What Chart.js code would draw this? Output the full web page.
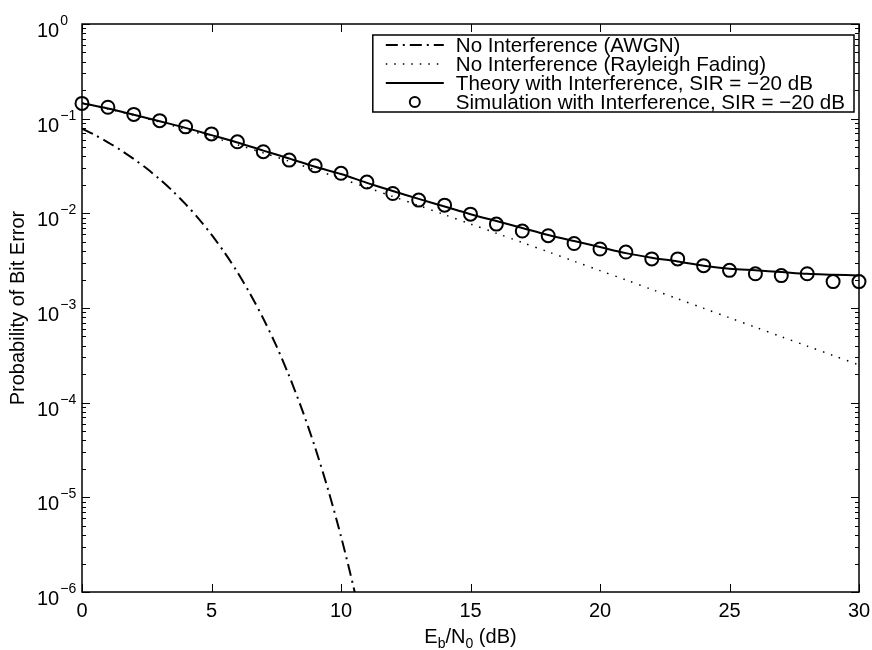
<!DOCTYPE html>
<html>
<head>
<meta charset="utf-8">
<title>BER with interference</title>
<script src="https://cdn.jsdelivr.net/npm/chart.js@4/dist/chart.umd.min.js"></script>
<style>
  html, body { margin: 0; padding: 0; background: #fff; }
  #wrap { width: 872px; height: 650px; }
</style>
</head>
<body>
<div id="wrap"><canvas id="ber" width="872" height="650"></canvas></div>
<script>
// Eb/N0 grid (dB) for the theory / simulation curves
const ebnoDb = [0, 1, 2, 3, 4, 5, 6, 7, 8, 9, 10, 11, 12, 13, 14, 15,
  16, 17, 18, 19, 20, 21, 22, 23, 24, 25, 26, 27, 28, 29, 30];

// finer grid for the AWGN curve, which falls off fast
const awgnDb = [0, 0.5, 1, 1.5, 2, 2.5, 3, 3.5, 4, 4.5, 5, 5.5, 6, 6.5, 7,
  7.5, 8, 8.5, 9, 9.5, 10, 10.5, 11];
const awgnBer = [0.0786, 0.0671, 0.0563, 0.0464, 0.0375, 0.0297, 0.0229, 0.0172,
  0.0125, 0.0088, 0.00595, 0.00386, 0.00239, 0.0014, 7.73e-4, 4.0e-4, 1.91e-4,
  8.4e-5, 3.36e-5, 1.21e-5, 3.87e-6, 1.08e-6, 2.6e-7];

const rayleighBer = [0.1464, 0.1267, 0.1085, 0.0919, 0.0771, 0.0642, 0.0530,
  0.0435, 0.0355, 0.0288, 0.0233, 0.01875, 0.01507, 0.01208, 0.00967, 0.00772,
  0.00616, 0.00492, 0.00392, 0.00312, 0.00248, 0.00198, 0.00157, 0.00125,
  0.000993, 0.000789, 0.000627, 0.000498, 0.000396, 0.000315, 0.000250];

const theoryBer = [0.146, 0.128, 0.110, 0.094, 0.080, 0.067, 0.056, 0.046,
  0.038, 0.031, 0.026, 0.021, 0.0172, 0.0142, 0.0118, 0.0098, 0.0083, 0.0070,
  0.0059, 0.0051, 0.0044, 0.0038, 0.0034, 0.0031, 0.0028, 0.0026, 0.0025,
  0.0024, 0.0023, 0.00225, 0.0022];

const simBer = [0.145, 0.132, 0.111, 0.0953, 0.082, 0.069, 0.057, 0.0448,
  0.0365, 0.0318, 0.0265, 0.0214, 0.0162, 0.0138, 0.0122, 0.0098, 0.0077,
  0.0065, 0.0058, 0.0048, 0.0042, 0.0039, 0.0033, 0.0033, 0.0028, 0.0025,
  0.0023, 0.0022, 0.0023, 0.0019, 0.0019];

const seriesNames = [
  "No Interference (AWGN)",
  "No Interference (Rayleigh Fading)",
  "Theory with Interference, SIR = \u221220 dB",
  "Simulation with Interference, SIR = \u221220 dB"
];

const xTicks = [0, 5, 10, 15, 20, 25, 30];
const yExponents = [0, -1, -2, -3, -4, -5, -6];

const FONT = '"Liberation Sans", Arial, Helvetica, sans-serif';
const FS = 20;
const SUB = 14;

const pts = (xs, ys) => xs.map((x, i) => ({ x: x, y: ys[i] }));

// axes box, inward ticks, tick labels, axis titles and legend, MATLAB style
const matlabAxes = {
  id: "matlabAxes",
  afterDraw(chart) {
    const { ctx, chartArea: a } = chart;
    const xs = chart.scales.x, ys = chart.scales.y;
    ctx.save();
    ctx.strokeStyle = "#000";
    ctx.lineWidth = 1.5;
    ctx.strokeRect(a.left, a.top, a.right - a.left, a.bottom - a.top);

    ctx.beginPath();
    xTicks.forEach(v => {
      const px = Math.round(xs.getPixelForValue(v)) + 0.5;
      ctx.moveTo(px, a.bottom); ctx.lineTo(px, a.bottom - 8);
      ctx.moveTo(px, a.top); ctx.lineTo(px, a.top + 8);
    });
    yExponents.forEach(e => {
      for (let m = 1; m <= 9; m++) {
        if (e === 0 && m > 1) continue;
        const py = Math.round(ys.getPixelForValue(m * Math.pow(10, e))) + 0.5;
        const len = m === 1 ? 8 : 4;
        ctx.moveTo(a.left, py); ctx.lineTo(a.left + len, py);
        ctx.moveTo(a.right, py); ctx.lineTo(a.right - len, py);
      }
    });
    ctx.lineWidth = 1;
    ctx.stroke();

    ctx.fillStyle = "#000";
    ctx.font = FS + "px " + FONT;
    ctx.textAlign = "center";
    ctx.textBaseline = "top";
    xTicks.forEach(v => ctx.fillText(String(v), xs.getPixelForValue(v), a.bottom + 9));

    // y tick labels: 10 with a raised exponent
    ctx.textAlign = "left";
    ctx.textBaseline = "alphabetic";
    yExponents.forEach(e => {
      const py = ys.getPixelForValue(Math.pow(10, e));
      const exp = e === 0 ? "0" : "\u2212" + (-e);
      ctx.font = FS + "px " + FONT;
      const bw = ctx.measureText("10").width;
      ctx.fillText("10", 37, py + 13);
      ctx.font = SUB + "px " + FONT;
      ctx.fillText(exp, 37 + bw + 1, py + 1);
    });

    // x title: Eb/N0 (dB) with subscripts
    const cx = (a.left + a.right) / 2;
    const by = a.bottom + 51;
    const parts = [["E", 0], ["b", 1], ["/N", 0], ["0", 1], [" (dB)", 0]];
    const partFont = p => (p[1] ? SUB : FS) + "px " + FONT;
    let total = 0;
    parts.forEach(p => { ctx.font = partFont(p); total += ctx.measureText(p[0]).width; });
    let x = cx - total / 2;
    parts.forEach(p => {
      ctx.font = partFont(p);
      ctx.fillText(p[0], x, by + (p[1] ? 5 : 0));
      x += ctx.measureText(p[0]).width;
    });

    // y title
    ctx.save();
    ctx.translate(24, (a.top + a.bottom) / 2);
    ctx.rotate(-Math.PI / 2);
    ctx.font = FS + "px " + FONT;
    ctx.textAlign = "center";
    ctx.fillText("Probability of Bit Error", 0, 0);
    ctx.restore();

    // legend box in the upper right corner
    const legFont = "20.6px " + FONT;
    ctx.font = legFont;
    const textW = Math.max(...seriesNames.map(s => ctx.measureText(s).width));
    const rowH = 19;
    const sampleX0 = 13, sampleW = 58, textX = 83;
    const boxW = textX + textW + 9;
    const boxH = rowH * seriesNames.length + 1;
    const bx = a.right - 5 - boxW;
    const bTop = a.top + 11;
    ctx.fillStyle = "#fff";
    ctx.fillRect(bx, bTop, boxW, boxH);
    ctx.strokeStyle = "#000";
    ctx.lineWidth = 1.5;
    ctx.setLineDash([]);
    ctx.strokeRect(bx, bTop, boxW, boxH);
    chart.data.datasets.forEach((ds, i) => {
      const ry = bTop + 10 + rowH * i;
      const sx = bx + sampleX0;
      if (ds.showLine === false) {
        ctx.lineWidth = ds.pointBorderWidth;
        ctx.beginPath();
        ctx.arc(sx + sampleW / 2, ry, ds.pointRadius - 1.5, 0, Math.PI * 2);
        ctx.stroke();
      } else {
        ctx.setLineDash(ds.borderDash || []);
        ctx.lineWidth = ds.borderWidth;
        ctx.beginPath();
        ctx.moveTo(sx, ry); ctx.lineTo(sx + sampleW, ry);
        ctx.stroke();
        ctx.setLineDash([]);
      }
      ctx.fillStyle = "#000";
      ctx.font = legFont;
      ctx.textBaseline = "middle";
      ctx.fillText(ds.label, bx + textX, ry + 1);
    });
    ctx.restore();
  }
};

new Chart(document.getElementById("ber"), {
  type: "line",
  data: {
    datasets: [
      {
        label: seriesNames[0],
        data: pts(awgnDb, awgnBer),
        borderColor: "#000", borderWidth: 2, borderDash: [12, 5, 2, 5],
        pointRadius: 0, tension: 0.3, fill: false
      },
      {
        label: seriesNames[1],
        data: pts(ebnoDb, rayleighBer),
        borderColor: "#000", borderWidth: 1.5, borderDash: [1.5, 7],
        pointRadius: 0, tension: 0.3, fill: false
      },
      {
        label: seriesNames[2],
        data: pts(ebnoDb, theoryBer),
        borderColor: "#000", borderWidth: 2,
        pointRadius: 0, tension: 0.3, fill: false
      },
      {
        label: seriesNames[3],
        data: pts(ebnoDb, simBer),
        showLine: false,
        borderColor: "#000", backgroundColor: "rgba(0,0,0,0)",
        pointStyle: "circle", pointRadius: 6.5, pointBorderWidth: 2,
        pointBackgroundColor: "rgba(0,0,0,0)", pointBorderColor: "#000",
        clip: false
      }
    ]
  },
  options: {
    responsive: false,
    animation: false,
    events: [],
    layout: { padding: { left: 82, top: 24, right: 13, bottom: 58 } },
    plugins: { legend: { display: false }, tooltip: { enabled: false } },
    scales: {
      x: { type: "linear", min: 0, max: 30, display: false },
      y: { type: "logarithmic", min: 1e-6, max: 1, display: false }
    }
  },
  plugins: [matlabAxes]
});
</script>
</body>
</html>
